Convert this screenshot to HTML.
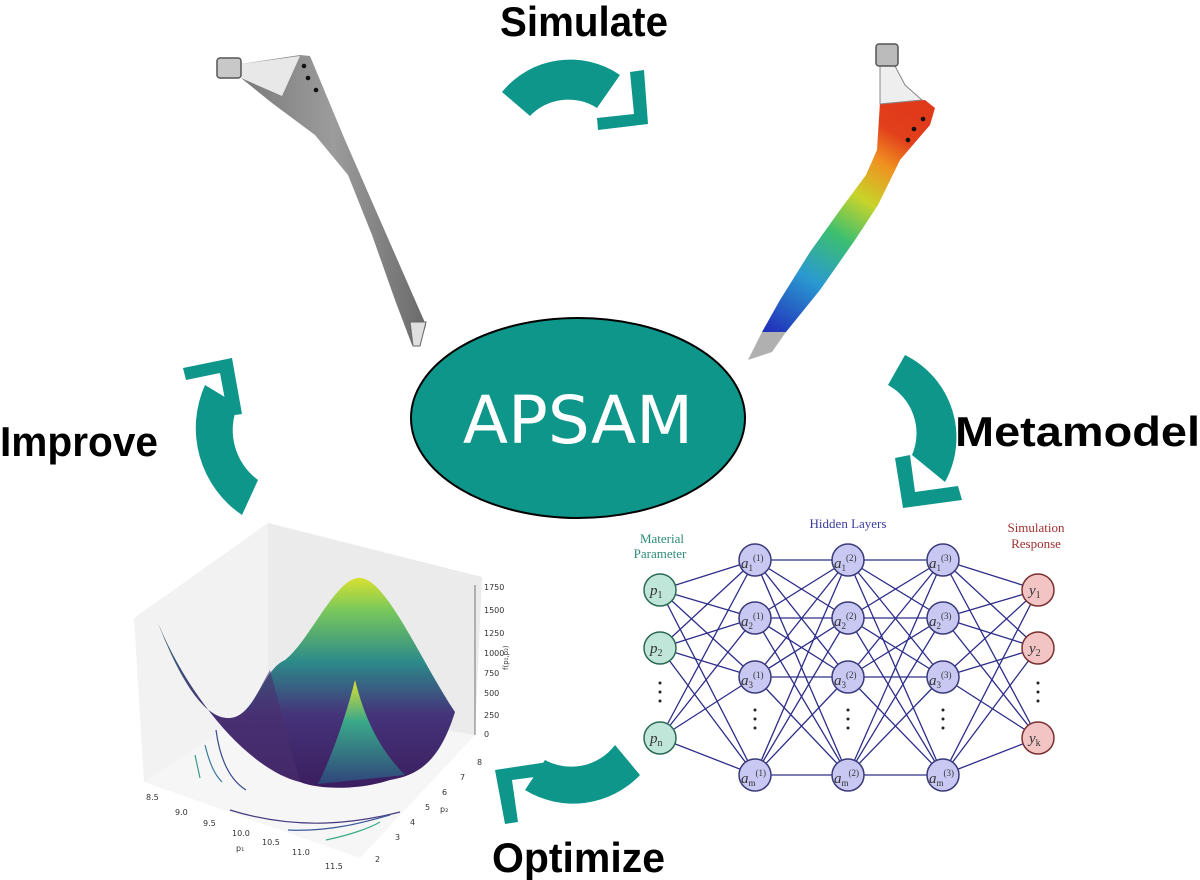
<!DOCTYPE html>
<html><head><meta charset="utf-8"><style>
html,body{margin:0;padding:0;background:#fff;}
svg{display:block;}
.lbl{font-family:"Liberation Sans",sans-serif;font-weight:bold;fill:#000;}
.nn{font-family:"Liberation Serif",serif;font-style:italic;font-size:15px;fill:#333;}
</style></head><body>
<svg width="1200" height="880" viewBox="0 0 1200 880" xmlns="http://www.w3.org/2000/svg">
<defs>
<linearGradient id="steel" x1="0" y1="0" x2="1" y2="0">
<stop offset="0" stop-color="#7a7a7a"/><stop offset="0.5" stop-color="#9c9c9c"/><stop offset="1" stop-color="#6a6a6a"/></linearGradient>
<linearGradient id="fem" gradientUnits="userSpaceOnUse" x1="770" y1="330" x2="905" y2="110">
<stop offset="0" stop-color="#2233bb"/><stop offset="0.25" stop-color="#2a9ad0"/><stop offset="0.45" stop-color="#3cbf70"/><stop offset="0.62" stop-color="#c8d42a"/><stop offset="0.78" stop-color="#f09020"/><stop offset="0.9" stop-color="#e2401c"/><stop offset="1" stop-color="#e03a1a"/></linearGradient>
<linearGradient id="vir" x1="0" y1="1" x2="0" y2="0">
<stop offset="0" stop-color="#3b1e5e"/><stop offset="0.35" stop-color="#45337a"/><stop offset="0.6" stop-color="#2c8a8a"/><stop offset="0.85" stop-color="#7ac95a"/><stop offset="1" stop-color="#d8e030"/></linearGradient>
<linearGradient id="vir2" x1="0" y1="0" x2="0" y2="1">
<stop offset="0" stop-color="#e0e030"/><stop offset="0.4" stop-color="#3aa88a"/><stop offset="1" stop-color="#30457a"/></linearGradient>
</defs>

<!-- labels -->
<text class="lbl" x="500" y="36" font-size="42" textLength="168" lengthAdjust="spacingAndGlyphs">Simulate</text>
<text class="lbl" x="955" y="446" font-size="42" textLength="245" lengthAdjust="spacingAndGlyphs">Metamodel</text>
<text class="lbl" x="0" y="456" font-size="42" textLength="158" lengthAdjust="spacingAndGlyphs">Improve</text>
<text class="lbl" x="492" y="872" font-size="42" textLength="173" lengthAdjust="spacingAndGlyphs">Optimize</text>

<!-- arrows -->
<g fill="#0e968a">
<path d="M502,92 A88,88 0 0 1 620,75 L597,108 A53,53 0 0 0 530,116 Z"/>
<path d="M630,72 L644,70 L648,124 L598,130 L597,118 L634,114 Z"/>
<path d="M905,355 A92,92 0 0 1 945,482 L912,455 A55,55 0 0 0 888,385 Z"/>
<path d="M895,458 L910,455 L915,492 L958,486 L962,500 L903,508 Z"/>
<path d="M205,385 A105,105 0 0 0 242,515 L258,480 A62,62 0 0 1 238,405 Z"/>
<path d="M183,368 L232,358 L242,414 L228,416 L220,373 L186,380 Z"/>
<path d="M640,775 A92,92 0 0 1 525,790 L545,760 A55,55 0 0 0 615,745 Z"/>
<path d="M495,770 L548,762 L550,775 L512,780 L518,822 L505,824 Z"/>
</g>

<!-- center ellipse -->
<ellipse cx="578" cy="418" rx="167" ry="100" fill="#0e968a" stroke="#000" stroke-width="2"/>
<text x="578" y="443" text-anchor="middle" font-family="DejaVu Sans,Liberation Sans,sans-serif" font-size="66" fill="#fff">APSAM</text>

<!-- left implant -->
<g>
<path d="M241,64 L300,55 L310,56 L345,140 L380,220 L415,300 L426,325 L420,345 L412,345 L395,300 L372,235 L348,175 L315,135 L272,103 L241,78 Z" fill="url(#steel)"/>
<path d="M241,64 L300,56 L282,96 L241,78 Z" fill="#e8e8e8"/>
<rect x="217" y="58" width="24" height="20" rx="3" fill="#c8c8c8" stroke="#555" stroke-width="1.5"/>
<circle cx="304" cy="66" r="2.3" fill="#111"/><circle cx="308" cy="78" r="2.3" fill="#111"/><circle cx="316" cy="90" r="2.3" fill="#111"/>
<path d="M410,322 L426,322 L420,346 L413,346 Z" fill="#e0e0e0" stroke="#666" stroke-width="1"/>
</g>

<!-- right implant FEM -->
<g>
<path d="M880,102 L925,100 L935,108 L930,125 L900,160 L878,205 L855,240 L820,290 L786,332 L762,332 L780,300 L810,252 L840,210 L866,175 L877,150 Z" fill="url(#fem)"/>
<path d="M880,66 L895,66 L905,85 L922,100 L880,104 Z" fill="#eeeeee" stroke="#888" stroke-width="1"/>
<rect x="876" y="44" width="22" height="22" rx="3" fill="#bbb" stroke="#555" stroke-width="1.5"/>
<circle cx="923" cy="119" r="2.3" fill="#111"/><circle cx="914" cy="129" r="2.3" fill="#111"/><circle cx="908" cy="140" r="2.3" fill="#111"/>
<path d="M762,332 L786,332 L772,352 L748,360 Z" fill="#b0b0b0"/>
</g>

<!-- 3D surface plot -->
<g>
<path d="M134,618 L268,523 L268,700 L144,782 Z" fill="#f2f2f2"/>
<path d="M268,523 L482,577 L475,735 L268,700 Z" fill="#ebebeb"/>
<path d="M144,782 L360,858 L475,735 L268,700 Z" fill="#f6f6f6"/>
<path d="M158,623 C180,680 205,720 230,718 C255,716 262,670 285,660 C310,640 335,580 358,578 C385,575 420,660 455,712 C440,760 420,775 390,780 C360,790 320,790 300,782 C250,770 190,700 158,623 Z" fill="url(#vir)"/>
<path d="M158,623 C180,680 205,720 230,718 C250,717 258,690 270,670 L300,782 C250,770 190,700 158,623 Z" fill="#4a2f6e" opacity="0.6"/>
<path d="M355,680 C345,720 330,760 318,784 L405,775 C380,750 365,720 355,680 Z" fill="url(#vir2)"/>
<g fill="none" stroke-width="1.2">
<path d="M216,730 C220,760 230,780 246,790" stroke="#3a4a8a"/>
<path d="M205,745 C210,765 215,775 222,782" stroke="#3a7a9a"/>
<path d="M195,755 L200,778" stroke="#3a9a8a"/>
<path d="M230,810 C300,832 360,822 400,812" stroke="#4a3a80"/>
<path d="M288,830 C330,832 365,822 390,815" stroke="#3a5a9a"/>
<path d="M326,840 C350,835 370,828 380,822" stroke="#3aaa88"/>
</g>
<g font-family="DejaVu Sans,sans-serif" font-size="8" fill="#333">
<text x="146" y="800">8.5</text><text x="175" y="815">9.0</text><text x="203" y="826">9.5</text><text x="232" y="836">10.0</text><text x="262" y="845">10.5</text><text x="292" y="855">11.0</text><text x="325" y="869">11.5</text>
<text x="236" y="851">p₁</text>
<text x="477" y="765">8</text><text x="460" y="780">7</text><text x="442" y="795">6</text><text x="425" y="810">5</text><text x="410" y="825">4</text><text x="395" y="840">3</text><text x="375" y="862">2</text>
<text x="440" y="812">p₂</text>
<text x="484" y="590">1750</text><text x="484" y="613">1500</text><text x="484" y="636">1250</text><text x="484" y="656">1000</text><text x="484" y="676">750</text><text x="484" y="696">500</text><text x="484" y="718">250</text><text x="484" y="737">0</text>
</g>
<text x="508" y="670" font-family="DejaVu Sans,sans-serif" font-size="7" fill="#333" transform="rotate(-90 508 670)">f(p₁,p₂)</text>
<path d="M475,585 L475,735" stroke="#555" stroke-width="0.8"/>
</g>

<!-- Neural network -->
<g stroke="#2d2d8a" stroke-width="1.3">
<line x1="660" y1="590" x2="755" y2="560"/><line x1="660" y1="590" x2="755" y2="618"/><line x1="660" y1="590" x2="755" y2="677"/><line x1="660" y1="590" x2="755" y2="775"/>
<line x1="660" y1="648" x2="755" y2="560"/><line x1="660" y1="648" x2="755" y2="618"/><line x1="660" y1="648" x2="755" y2="677"/><line x1="660" y1="648" x2="755" y2="775"/>
<line x1="660" y1="738" x2="755" y2="560"/><line x1="660" y1="738" x2="755" y2="618"/><line x1="660" y1="738" x2="755" y2="677"/><line x1="660" y1="738" x2="755" y2="775"/>
<line x1="755" y1="560" x2="848" y2="560"/><line x1="755" y1="560" x2="848" y2="618"/><line x1="755" y1="560" x2="848" y2="677"/><line x1="755" y1="560" x2="848" y2="775"/>
<line x1="755" y1="618" x2="848" y2="560"/><line x1="755" y1="618" x2="848" y2="618"/><line x1="755" y1="618" x2="848" y2="677"/><line x1="755" y1="618" x2="848" y2="775"/>
<line x1="755" y1="677" x2="848" y2="560"/><line x1="755" y1="677" x2="848" y2="618"/><line x1="755" y1="677" x2="848" y2="677"/><line x1="755" y1="677" x2="848" y2="775"/>
<line x1="755" y1="775" x2="848" y2="560"/><line x1="755" y1="775" x2="848" y2="618"/><line x1="755" y1="775" x2="848" y2="677"/><line x1="755" y1="775" x2="848" y2="775"/>
<line x1="848" y1="560" x2="943" y2="560"/><line x1="848" y1="560" x2="943" y2="618"/><line x1="848" y1="560" x2="943" y2="677"/><line x1="848" y1="560" x2="943" y2="775"/>
<line x1="848" y1="618" x2="943" y2="560"/><line x1="848" y1="618" x2="943" y2="618"/><line x1="848" y1="618" x2="943" y2="677"/><line x1="848" y1="618" x2="943" y2="775"/>
<line x1="848" y1="677" x2="943" y2="560"/><line x1="848" y1="677" x2="943" y2="618"/><line x1="848" y1="677" x2="943" y2="677"/><line x1="848" y1="677" x2="943" y2="775"/>
<line x1="848" y1="775" x2="943" y2="560"/><line x1="848" y1="775" x2="943" y2="618"/><line x1="848" y1="775" x2="943" y2="677"/><line x1="848" y1="775" x2="943" y2="775"/>
<line x1="943" y1="560" x2="1038" y2="590"/><line x1="943" y1="560" x2="1038" y2="648"/><line x1="943" y1="560" x2="1038" y2="738"/>
<line x1="943" y1="618" x2="1038" y2="590"/><line x1="943" y1="618" x2="1038" y2="648"/><line x1="943" y1="618" x2="1038" y2="738"/>
<line x1="943" y1="677" x2="1038" y2="590"/><line x1="943" y1="677" x2="1038" y2="648"/><line x1="943" y1="677" x2="1038" y2="738"/>
<line x1="943" y1="775" x2="1038" y2="590"/><line x1="943" y1="775" x2="1038" y2="648"/><line x1="943" y1="775" x2="1038" y2="738"/>
</g>
<g stroke-width="1.5">
<g fill="#bfe6d9" stroke="#2d6a55">
<circle cx="660" cy="590" r="16"/><circle cx="660" cy="648" r="16"/><circle cx="660" cy="738" r="16"/>
</g>
<g fill="#c8c8f2" stroke="#3a3a7a">
<circle cx="755" cy="560" r="16"/><circle cx="755" cy="618" r="16"/><circle cx="755" cy="677" r="16"/><circle cx="755" cy="775" r="16"/>
<circle cx="848" cy="560" r="16"/><circle cx="848" cy="618" r="16"/><circle cx="848" cy="677" r="16"/><circle cx="848" cy="775" r="16"/>
<circle cx="943" cy="560" r="16"/><circle cx="943" cy="618" r="16"/><circle cx="943" cy="677" r="16"/><circle cx="943" cy="775" r="16"/>
</g>
<g fill="#f2c4c4" stroke="#7a3030">
<circle cx="1038" cy="590" r="16"/><circle cx="1038" cy="648" r="16"/><circle cx="1038" cy="738" r="16"/>
</g>
</g>
<g class="nn">
<text x="650" y="595">p<tspan font-size="10" font-style="normal" dy="3">1</tspan></text>
<text x="650" y="653">p<tspan font-size="10" font-style="normal" dy="3">2</tspan></text>
<text x="650" y="743">p<tspan font-size="10" font-style="normal" dy="3">n</tspan></text>
<text x="1029" y="595">y<tspan font-size="10" font-style="normal" dy="3">1</tspan></text>
<text x="1029" y="653">y<tspan font-size="10" font-style="normal" dy="3">2</tspan></text>
<text x="1029" y="743">y<tspan font-size="10" font-style="normal" dy="3">k</tspan></text>
</g>
<g class="nn" font-size="14">
<text x="741" y="568">a<tspan font-size="9" font-style="normal" dy="3">1</tspan><tspan font-size="9" font-style="normal" dy="-10">(1)</tspan></text>
<text x="741" y="626">a<tspan font-size="9" font-style="normal" dy="3">2</tspan><tspan font-size="9" font-style="normal" dy="-10">(1)</tspan></text>
<text x="741" y="685">a<tspan font-size="9" font-style="normal" dy="3">3</tspan><tspan font-size="9" font-style="normal" dy="-10">(1)</tspan></text>
<text x="741" y="783">a<tspan font-size="9" font-style="normal" dy="3">m</tspan><tspan font-size="9" font-style="normal" dy="-10">(1)</tspan></text>
<text x="834" y="568">a<tspan font-size="9" font-style="normal" dy="3">1</tspan><tspan font-size="9" font-style="normal" dy="-10">(2)</tspan></text>
<text x="834" y="626">a<tspan font-size="9" font-style="normal" dy="3">2</tspan><tspan font-size="9" font-style="normal" dy="-10">(2)</tspan></text>
<text x="834" y="685">a<tspan font-size="9" font-style="normal" dy="3">3</tspan><tspan font-size="9" font-style="normal" dy="-10">(2)</tspan></text>
<text x="834" y="783">a<tspan font-size="9" font-style="normal" dy="3">m</tspan><tspan font-size="9" font-style="normal" dy="-10">(2)</tspan></text>
<text x="929" y="568">a<tspan font-size="9" font-style="normal" dy="3">1</tspan><tspan font-size="9" font-style="normal" dy="-10">(3)</tspan></text>
<text x="929" y="626">a<tspan font-size="9" font-style="normal" dy="3">2</tspan><tspan font-size="9" font-style="normal" dy="-10">(3)</tspan></text>
<text x="929" y="685">a<tspan font-size="9" font-style="normal" dy="3">3</tspan><tspan font-size="9" font-style="normal" dy="-10">(3)</tspan></text>
<text x="929" y="783">a<tspan font-size="9" font-style="normal" dy="3">m</tspan><tspan font-size="9" font-style="normal" dy="-10">(3)</tspan></text>
</g>
<g fill="#222">
<circle cx="660" cy="683" r="1.5"/><circle cx="660" cy="692" r="1.5"/><circle cx="660" cy="701" r="1.5"/>
<circle cx="1038" cy="683" r="1.5"/><circle cx="1038" cy="692" r="1.5"/><circle cx="1038" cy="701" r="1.5"/>
<circle cx="755" cy="710" r="1.5"/><circle cx="755" cy="719" r="1.5"/><circle cx="755" cy="728" r="1.5"/>
<circle cx="848" cy="710" r="1.5"/><circle cx="848" cy="719" r="1.5"/><circle cx="848" cy="728" r="1.5"/>
<circle cx="943" cy="710" r="1.5"/><circle cx="943" cy="719" r="1.5"/><circle cx="943" cy="728" r="1.5"/>
</g>
<g font-family="Liberation Serif,serif" font-size="13" text-anchor="middle">
<text x="662" y="543" fill="#2d8a78">Material</text><text x="660" y="558" fill="#2d8a78">Parameter</text>
<text x="848" y="528" fill="#3a3aa0">Hidden Layers</text>
<text x="1036" y="532" fill="#a03030">Simulation</text><text x="1036" y="548" fill="#a03030">Response</text>
</g>
</svg>
</body></html>
